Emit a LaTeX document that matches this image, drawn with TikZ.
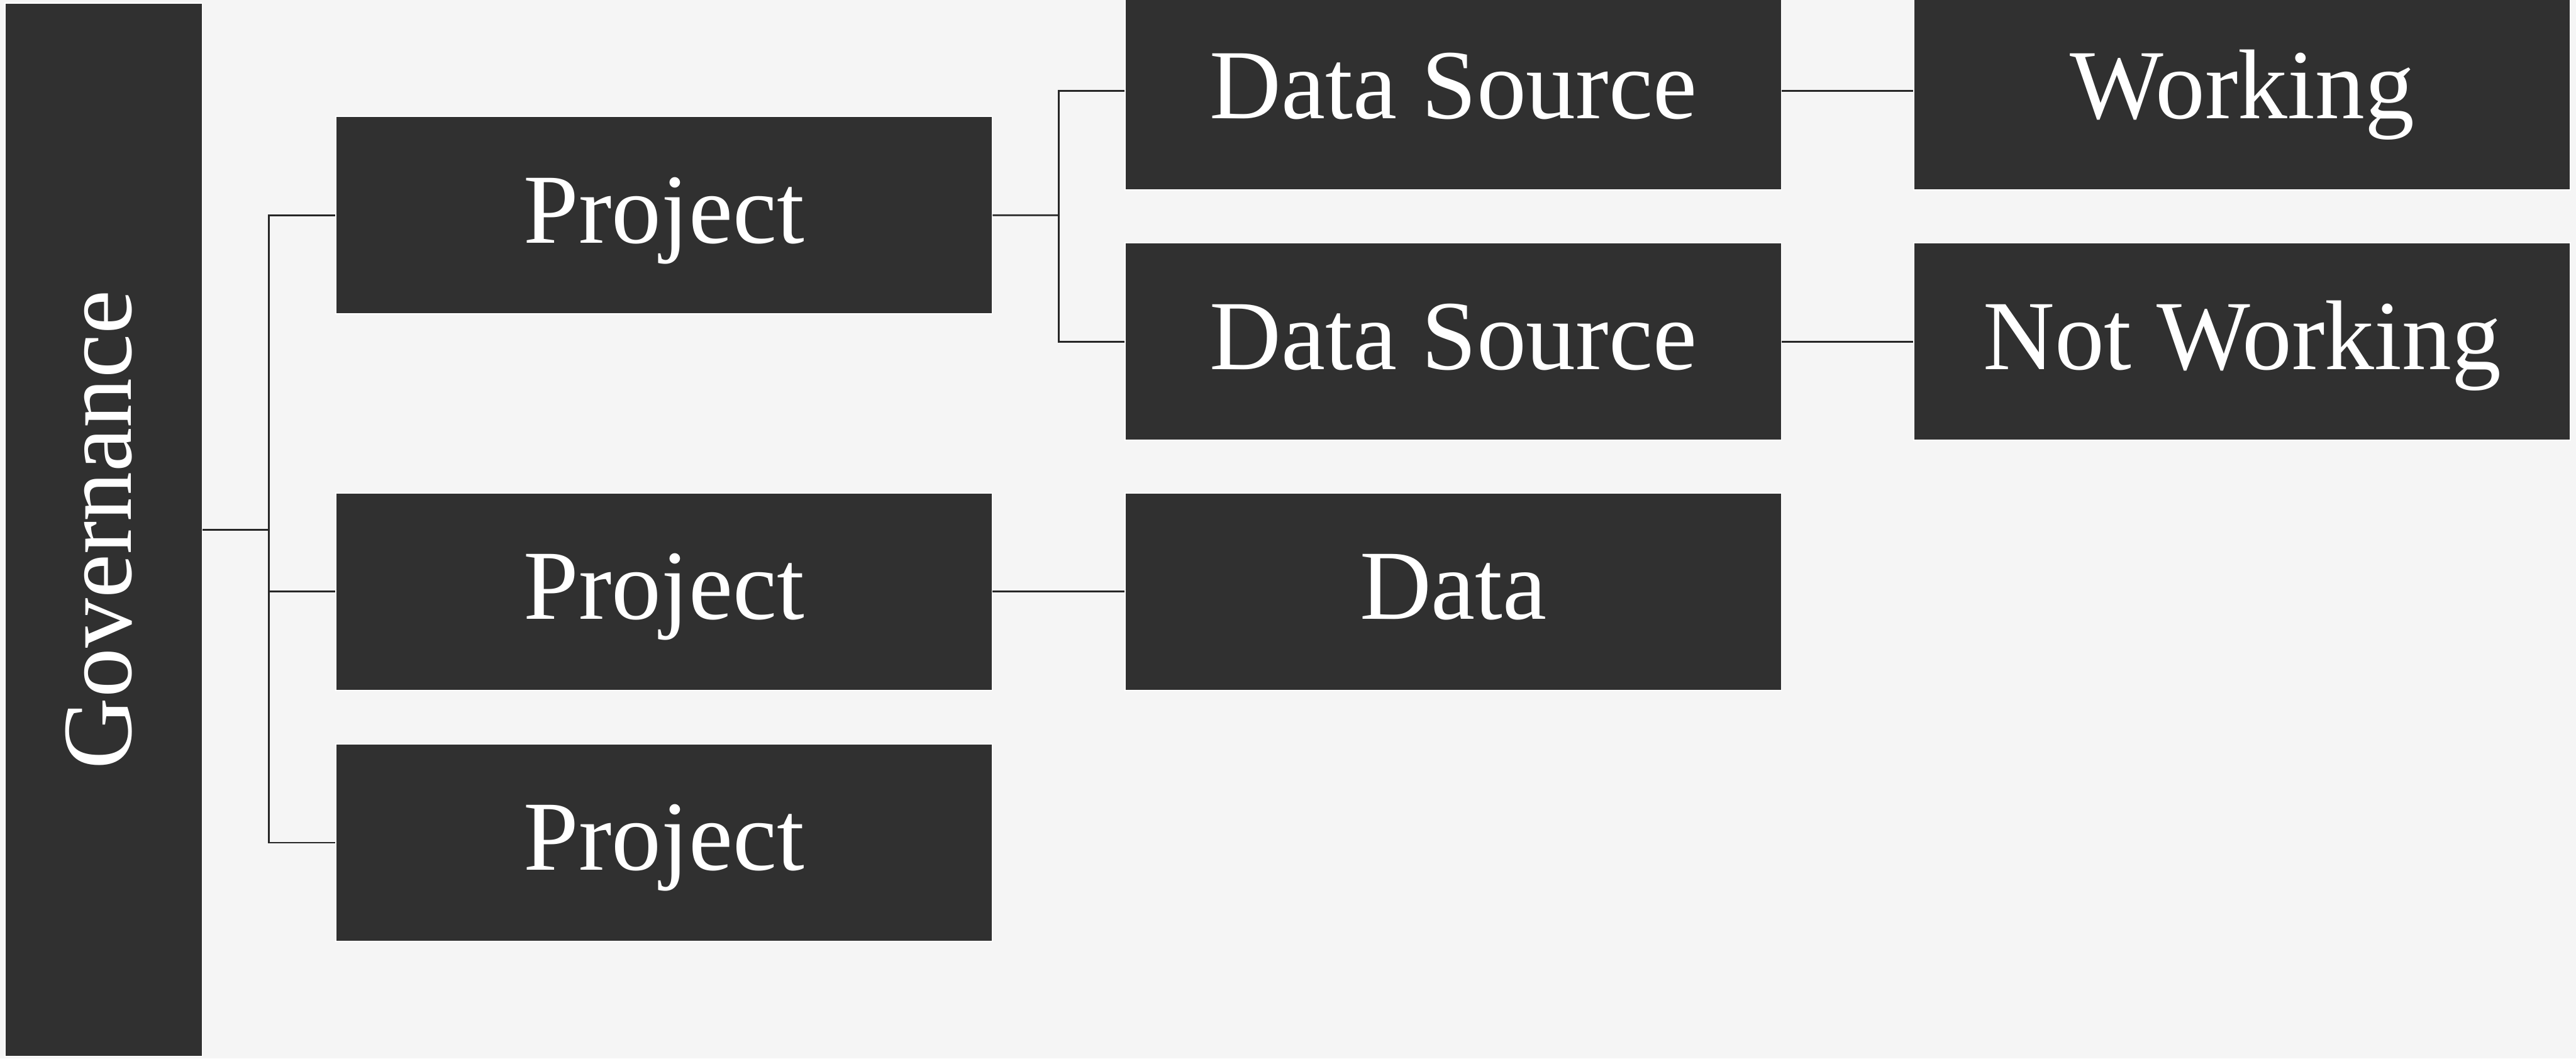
\documentclass[tikz,border=0pt]{standalone}
\usepackage{fontspec}
\setmainfont{Liberation Serif}
\usepackage{tikz}
\usetikzlibrary{calc}
\usepackage{xcolor}
\definecolor{paper}{HTML}{F5F5F5}
\definecolor{boxgray}{HTML}{303030}
\definecolor{wire}{HTML}{262626}

\begin{document}
\begin{tikzpicture}[
    block/.style={rectangle, fill=boxgray, draw=white, line width=0.6pt, text=white,
      minimum width=12.33cm, minimum height=3.71cm, inner sep=0pt,
      text height=37pt, text depth=7.5pt,
      font=\fontsize{53}{60}\selectfont},
    link/.style={draw=wire, line width=0.9pt}]
  \useasboundingbox (0,0) rectangle (48.40,-19.89);
  \fill[paper] (0,0) rectangle (48.40,-19.89);
  % Governance column (rotated, so width runs down the page)
  \node[block, minimum width=19.79cm, minimum height=3.71cm, rotate=90] (gov) at (1.945,-9.955) {Governance};
  % projects
  \node[block] (proj1) at (12.475,-4.045) {Project};
  \node[block] (proj2) at (12.475,-11.115) {Project};
  \node[block] (proj3) at (12.475,-15.835) {Project};
  % sources
  \node[block] (src1) at (27.305,-1.71) {Data Source};
  \node[block] (src2) at (27.305,-6.42) {Data Source};
  \node[block] (data) at (27.305,-11.115) {Data};
  % status
  \node[block] (ok) at (42.125,-1.71) {Working};
  \node[block] (notok) at (42.125,-6.42) {Not Working};
  % tree lines
  \coordinate (gsplit) at ($(gov.south)!0.5!(proj1.west |- gov.south)$);
  \draw[link] (gov.south) -- (gsplit);
  \draw[link] (proj1.west) -| (gsplit) |- (proj3.west);
  \draw[link] (gsplit |- proj2.west) -- (proj2.west);
  \coordinate (psplit) at ($(proj1.east)!0.5!(src1.west |- proj1.east)$);
  \draw[link] (proj1.east) -- (psplit);
  \draw[link] (src1.west) -| (psplit) |- (src2.west);
  \draw[link] (proj2) -- (data);
  \draw[link] (src1) -- (ok);
  \draw[link] (src2) -- (notok);
\end{tikzpicture}
\end{document}
